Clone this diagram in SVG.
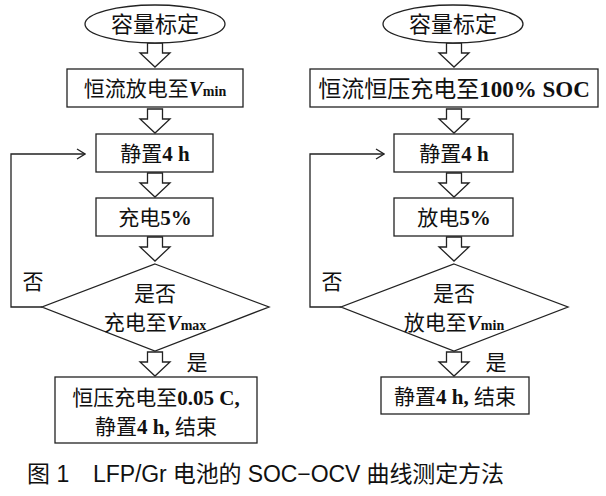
<svg xmlns="http://www.w3.org/2000/svg" xmlns:xlink="http://www.w3.org/1999/xlink" width="606" height="496" viewBox="0 0 606 496">
<style>
.shape{fill:#fff;stroke:#222;stroke-width:1.3}
.line{fill:none;stroke:#222;stroke-width:1.3}
.t{font-family:"Liberation Serif","Noto Sans CJK SC",serif;font-size:21px;fill:#111;text-anchor:middle}
.b{font-weight:bold}
.v{font-weight:bold;font-style:italic}
.s{font-weight:bold;font-size:14px}
.cap{font-family:"Liberation Sans","Noto Sans CJK SC",sans-serif;font-size:23px;fill:#111}
</style>
<defs>
<path id="harrow" class="shape" d="M-7.5,0 L7.5,0 L7.5,10 L15,10 L0,24 L-15,10 L-7.5,10 Z"/>
<marker id="chev" markerWidth="10" markerHeight="12" refX="9" refY="6" orient="auto" markerUnits="userSpaceOnUse">
<path d="M1,1 L9,6 L1,11" fill="none" stroke="#222" stroke-width="1.3"/>
</marker>
</defs>
<rect width="606" height="496" fill="#fff"/>

<g id="connectors">
<use xlink:href="#harrow" x="155" y="43"/>
<use xlink:href="#harrow" x="155" y="109"/>
<use xlink:href="#harrow" x="155" y="173"/>
<use xlink:href="#harrow" x="155" y="237"/>
<use xlink:href="#harrow" x="155" y="352"/>
<use xlink:href="#harrow" x="454" y="43"/>
<use xlink:href="#harrow" x="454" y="109"/>
<use xlink:href="#harrow" x="454" y="173"/>
<use xlink:href="#harrow" x="454" y="237"/>
<use xlink:href="#harrow" x="454" y="352"/>
<polyline class="line" points="42,307 11,307 11,154 85,154" marker-end="url(#chev)"/>
<polyline class="line" points="341,307 310,307 310,154 384,154" marker-end="url(#chev)"/>
<text class="t" x="33" y="289">否</text>
<text class="t" x="332" y="289">否</text>
<text class="t" x="197" y="370">是</text>
<text class="t" x="496" y="370">是</text>
</g>

<g id="L-start">
<ellipse class="shape" cx="155" cy="24" rx="70" ry="19"/>
<text class="t" x="155" y="32" style="font-size:22px">容量标定</text>
</g>
<g id="L-discharge">
<rect class="shape" x="67" y="69" width="176" height="38"/>
<text class="t" x="155" y="96">恒流放电至<tspan class="v">V</tspan><tspan class="s">min</tspan></text>
</g>
<g id="L-rest">
<rect class="shape" x="96" y="134" width="117" height="38"/>
<text class="t" x="155" y="160.5">静置<tspan class="b">4 h</tspan></text>
</g>
<g id="L-charge">
<rect class="shape" x="96" y="198" width="117" height="38"/>
<text class="t" x="155" y="224.5">充电<tspan class="b">5%</tspan></text>
</g>
<g id="L-decision">
<polygon class="shape" points="155,264 269,307 155,351 42,307"/>
<text class="t" x="155" y="300.5">是否</text>
<text class="t" x="155" y="329.5">充电至<tspan class="v">V</tspan><tspan class="s">max</tspan></text>
</g>
<g id="L-end">
<rect class="shape" x="55" y="377" width="202" height="66"/>
<text class="t" x="156" y="404.5">恒压充电至<tspan class="b">0.05 C,</tspan></text>
<text class="t" x="156" y="433.5">静置<tspan class="b">4 h,</tspan> 结束</text>
</g>

<g id="R-start">
<ellipse class="shape" cx="453" cy="24" rx="70" ry="19"/>
<text class="t" x="453" y="32" style="font-size:22px">容量标定</text>
</g>
<g id="R-charge-full">
<rect class="shape" x="310" y="69" width="288" height="38"/>
<text class="t" x="454" y="96.5" style="font-size:23px">恒流恒压充电至<tspan class="b">100% SOC</tspan></text>
</g>
<g id="R-rest">
<rect class="shape" x="394" y="134" width="119" height="38"/>
<text class="t" x="454" y="160.5">静置<tspan class="b">4 h</tspan></text>
</g>
<g id="R-discharge">
<rect class="shape" x="394" y="198" width="119" height="38"/>
<text class="t" x="454" y="224.5">放电<tspan class="b">5%</tspan></text>
</g>
<g id="R-decision">
<polygon class="shape" points="454,264 568,307 454,351 341,307"/>
<text class="t" x="454" y="300.5">是否</text>
<text class="t" x="454" y="329.5">放电至<tspan class="v">V</tspan><tspan class="s">min</tspan></text>
</g>
<g id="R-end">
<rect class="shape" x="381" y="377" width="148" height="37"/>
<text class="t" x="455" y="403.5">静置<tspan class="b">4 h,</tspan> 结束</text>
</g>

<g id="caption">
<text class="cap" x="27" y="482">图 1</text>
<text class="cap" x="93" y="482" textLength="411" lengthAdjust="spacing">LFP/Gr 电池的 SOC−OCV 曲线测定方法</text>
</g>
</svg>
